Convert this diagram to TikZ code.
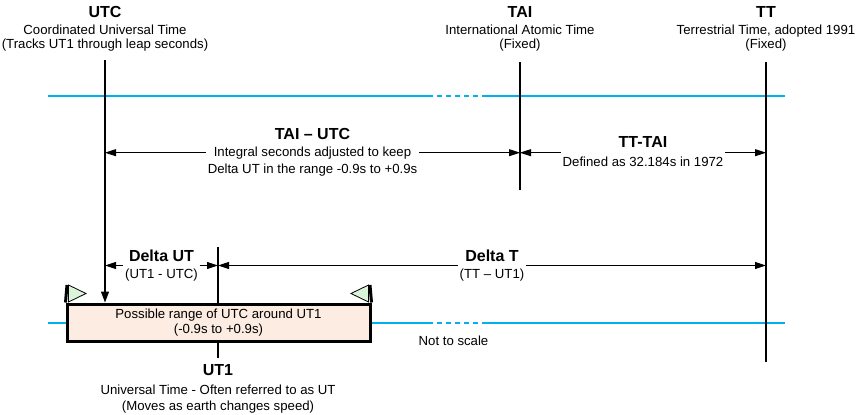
\documentclass[tikz,border=0pt]{standalone}
\usepackage{fontspec}
\setmainfont{Liberation Sans}
\usetikzlibrary{arrows.meta,positioning}
\definecolor{tblue}{RGB}{0,176,240}
\definecolor{tpeach}{RGB}{252,236,225}
\definecolor{tgreen}{RGB}{218,245,218}
\newcommand\tname[1]{{\fontsize{16}{18}\selectfont\bfseries #1}}

\begin{document}
\begin{tikzpicture}[x=1pt, y=-1pt,
    txt/.style={font=\fontsize{13.2}{16}\selectfont, anchor=base, inner sep=0pt},
    hd/.style={font=\fontsize{16}{18}\selectfont\bfseries, anchor=base, inner sep=0pt},
    lbl/.style={font=\fontsize{13.2}{17}\selectfont, align=center, fill=white,
                inner xsep=2pt, inner ysep=1pt},
    tick/.style={line width=1.2pt},
    dim/.style={{Triangle[length=11pt,width=7pt]}-{Triangle[length=11pt,width=7pt]},
                line width=0.8pt},
    axis/.style={tblue, line width=2.8pt},
    gapline/.style={tblue, line width=2.8pt, dash pattern=on 4.5pt off 4.5pt},
    rangebox/.style={draw, line width=3pt, fill=tpeach, align=center,
                     font=\fontsize{13.2}{15}\selectfont},
    flag/.style={draw, line width=0.8pt, fill=tgreen}
]
\useasboundingbox (0,0) rectangle (857,415);

% time lines (blue)
\coordinate (a1) at (48,96);   \coordinate (a2) at (428,96);
\coordinate (a3) at (482,96);  \coordinate (a4) at (785,96);
\coordinate (b1) at (48,323);  \coordinate (b2) at (428,323);
\coordinate (b3) at (482,323); \coordinate (b4) at (785,323);
\draw[axis] (a1) -- (a2);
\draw[gapline] (a2) -- (a3);
\draw[axis] (a3) -- (a4);
\draw[axis] (b1) -- (b2);
\draw[gapline] (b2) -- (b3);
\draw[axis] (b3) -- (b4);

% ends of the scale marks
\coordinate (utcTop) at (105,60);  \coordinate (utcBot) at (105,302.5);
\coordinate (taiTop) at (520,62);  \coordinate (taiBot) at (520,190);
\coordinate (ttTop) at (766,62);   \coordinate (ttBot) at (766,362);
\coordinate (ut1Top) at (218,247); \coordinate (ut1Bot) at (218,358);

\draw[tick] (taiTop) -- (taiBot);
\draw[tick] (ttTop) -- (ttBot);
\draw[tick] (ut1Top) -- (ut1Bot);

% range of UTC around UT1
\node[rangebox, minimum width=303pt, minimum height=37pt] (range) at (218.5,322.5)
    {Possible range of UTC around UT1\\(-0.9s to +0.9s)};
\draw[line width=3pt] (67,285) -- (range.north west);
\draw[line width=3pt] (370,285) -- (range.north east);
\draw[flag] (68.5,285) -- (86,293.5) -- (68.5,302) -- cycle;
\draw[flag] (368.5,285) -- (351,293.5) -- (368.5,302) -- cycle;

\draw[tick, -{Triangle[length=11pt,width=8pt]}] (utcTop) -- (utcBot);

% labels at the top
\node[hd]  (utc)  at (105,17)   {UTC};
\node[txt] (utc1) at (105,34.3) {Coordinated Universal Time};
\node[txt] (utc2) at (105,48.3) {(Tracks UT1 through leap seconds)};

\node[hd]  (tai)  at (520,17)   {TAI};
\node[txt] (tai1) at (520,34.3) {International Atomic Time};
\node[txt] (tai2) at (520,48.3) {(Fixed)};

\node[hd]  (tt)  at (766,17)   {TT};
\node[txt] (tt1) at (766,34.3) {Terrestrial Time, adopted 1991};
\node[txt] (tt2) at (766,48.3) {(Fixed)};

% differences
\coordinate (utcA) at (105,152.7);
\coordinate (taiA) at (520,152.7);
\coordinate (ttA)  at (766,152.7);
\coordinate (utcB) at (105,265.5);
\coordinate (ut1B) at (218,265.5);
\coordinate (ttB)  at (766,265.5);

\draw[dim] (utcA) -- node[lbl] (taiutc)
    {\tname{TAI -- UTC}\\Integral seconds adjusted to keep\\Delta UT in the range -0.9s to +0.9s} (taiA);
\draw[dim] (taiA) -- node[lbl, yshift=1.5pt] (tttai)
    {\tname{TT-TAI}\\[2pt]Defined as 32.184s in 1972} (ttA);
\draw[dim] (utcB) -- node[lbl] (dut) {\tname{Delta UT}\\(UT1 - UTC)} (ut1B);
\draw[dim] (ut1B) -- node[lbl] (dt) {\tname{Delta T}\\(TT -- UT1)} (ttB);

\node[txt] (scale) at (453.5,345) {Not to scale};

% label at the bottom
\node[hd]  (ut1)  at (218,375) {UT1};
\node[txt] (ut1a) at (218,394) {Universal Time - Often referred to as UT};
\node[txt] (ut1b) at (218,410) {(Moves as earth changes speed)};

\end{tikzpicture}
\end{document}
